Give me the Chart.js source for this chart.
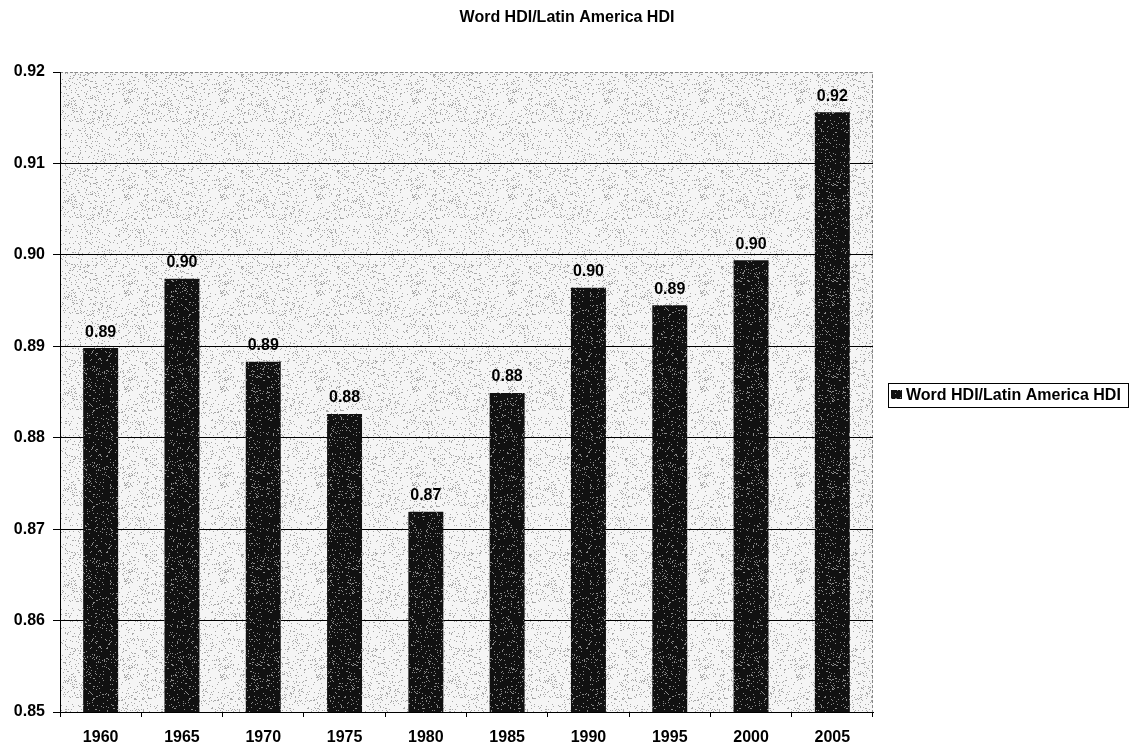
<!DOCTYPE html>
<html>
<head>
<meta charset="utf-8">
<title>Word HDI/Latin America HDI</title>
<script src="https://cdn.jsdelivr.net/npm/chart.js@4.4.1/dist/chart.umd.min.js"></script>
<style>
    html, body { margin: 0; padding: 0; background: #fff; }
    #wrap { width: 1134px; height: 745px; position: relative; }
</style>
</head>
<body>
<div id="wrap"><canvas id="hdiChart" width="1134" height="745"></canvas></div>
<script>
const years = ['1960', '1965', '1970', '1975', '1980', '1985', '1990', '1995', '2000', '2005'];
const hdiRatio = [0.8898, 0.8974, 0.8883, 0.8826, 0.8719, 0.8849, 0.8964, 0.8945, 0.8994, 0.9156];
const yTicks = [0.85, 0.86, 0.87, 0.88, 0.89, 0.90, 0.91, 0.92];
const seriesName = 'Word HDI/Latin America HDI';

const FONT = '"Liberation Sans", Arial, sans-serif';

// speckled fills, deterministic hash so the grain is the same every load
function hash(x, y, seed) {
    let h = (x * 374761393 + y * 668265263 + seed * 982451653) | 0;
    h = Math.imul(h ^ (h >>> 13), 1274126177);
    h = h ^ (h >>> 16);
    return (h >>> 0) / 4294967295;
}

function speckle(base, dot, density, seed) {
    const c = document.createElement('canvas');
    c.width = 96;
    c.height = 96;
    const g = c.getContext('2d');
    g.fillStyle = base;
    g.fillRect(0, 0, 96, 96);
    g.fillStyle = dot;
    for (let y = 0; y < 96; y++) {
        for (let x = 0; x < 96; x++) {
            if (hash(x, y, seed) < density) g.fillRect(x, y, 1, 1);
        }
    }
    return g.createPattern(c, 'repeat');
}

const ctx = document.getElementById('hdiChart').getContext('2d');
const plotFill = speckle('#f5f5f5', '#a8a8a8', 0.11, 1);
const barFill = speckle('#111111', '#8a8a8a', 0.08, 2);

const plotBackground = {
    id: 'plotBackground',
    beforeDraw(chart) {
        const { ctx, chartArea: a } = chart;
        ctx.save();
        ctx.fillStyle = plotFill;
        ctx.fillRect(a.left, a.top, a.right - a.left, a.bottom - a.top);
        ctx.strokeStyle = '#888';
        ctx.lineWidth = 1;
        ctx.setLineDash([3, 2]);
        ctx.beginPath();
        ctx.moveTo(a.left, a.top + 0.5);
        ctx.lineTo(a.right - 0.5, a.top + 0.5);
        ctx.lineTo(a.right - 0.5, a.bottom);
        ctx.stroke();
        ctx.restore();
    }
};

// title, value labels above each bar, boxed legend on the right
const annotations = {
    id: 'annotations',
    afterDatasetsDraw(chart) {
        const { ctx } = chart;
        const meta = chart.getDatasetMeta(0);
        ctx.save();
        ctx.fillStyle = '#000';

        ctx.font = 'bold 16px ' + FONT;
        ctx.textAlign = 'center';
        ctx.textBaseline = 'middle';
        ctx.fillText(seriesName, 567, 18);

        ctx.textBaseline = 'bottom';
        meta.data.forEach((bar, i) => {
            ctx.fillText(hdiRatio[i].toFixed(2), bar.x, bar.y - 8);
        });

        ctx.fillStyle = '#fff';
        ctx.fillRect(888, 383, 241, 25);
        ctx.strokeStyle = '#000';
        ctx.lineWidth = 1;
        ctx.strokeRect(888.5, 383.5, 240, 24);
        ctx.fillStyle = barFill;
        ctx.fillRect(891, 390, 11, 9);
        ctx.fillStyle = '#000';
        ctx.font = 'bold 16px ' + FONT;
        ctx.textAlign = 'left';
        ctx.textBaseline = 'middle';
        ctx.fillText(seriesName, 906, 396);
        ctx.restore();
    }
};

const hdiChart = new Chart(ctx, {
    type: 'bar',
    data: {
        labels: years,
        datasets: [{
            label: seriesName,
            data: hdiRatio,
            backgroundColor: barFill,
            borderWidth: 0,
            categoryPercentage: 1,
            barPercentage: 0.43
        }]
    },
    options: {
        responsive: false,
        animation: false,
        layout: { padding: { left: 0, right: 261, top: 72, bottom: 0 } },
        plugins: {
            legend: { display: false },
            title: { display: false },
            tooltip: { enabled: false }
        },
        scales: {
            x: {
                afterFit(scale) { scale.height = 33; },
                grid: {
                    offset: true,
                    drawOnChartArea: false,
                    tickLength: 5,
                    tickColor: '#000'
                },
                border: { color: '#000', width: 1 },
                ticks: {
                    color: '#000',
                    padding: 11,
                    font: { family: FONT, size: 16, weight: 'bold' }
                }
            },
            y: {
                min: yTicks[0],
                max: yTicks[yTicks.length - 1],
                afterFit(scale) { scale.width = 60; },
                afterBuildTicks(scale) {
                    scale.ticks = yTicks.map(v => ({ value: v }));
                },
                grid: {
                    color: c => (c.tick && c.tick.value > 0.915) ? 'rgba(0,0,0,0)' : '#000',
                    tickColor: '#000',
                    tickLength: 7,
                    lineWidth: 1
                },
                border: { color: '#000', width: 1 },
                ticks: {
                    color: '#000',
                    padding: 8,
                    font: { family: FONT, size: 16, weight: 'bold' },
                    callback: v => Number(v).toFixed(2)
                }
            }
        }
    },
    plugins: [plotBackground, annotations]
});
</script>
</body>
</html>
